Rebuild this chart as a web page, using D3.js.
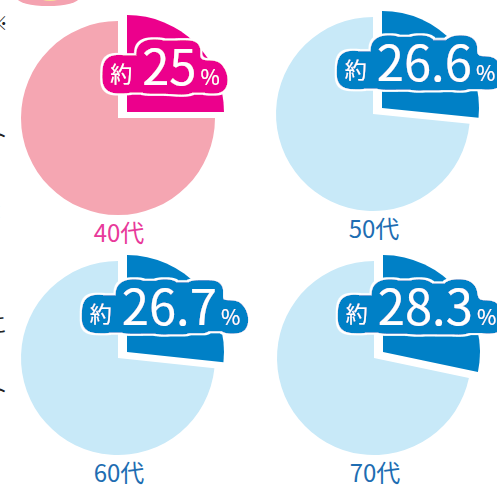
<!DOCTYPE html>
<html>
<head>
<meta charset="utf-8">
<script src="https://cdn.jsdelivr.net/npm/d3@7"></script>
<style>
  body { margin: 0; background: #fff; }
  svg { display: block; }
</style>
</head>
<body>
<div id="container"></div>
<script>
/* DATA */
const ages = ["40代", "50代", "60代", "70代"]
const shares = [25, 26.6, 26.7, 28.3]
const shareLabels = ["25", "26.6", "26.7", "28.3"]

/* CONSTANTS AND GLOBALS */
const width = 497,
  height = 490

// pie centres, in reading order
const centres = [[118, 118], [373, 114], [118, 358], [374, 358]]
const radius = 97
const explode = { dx: 9, dy: -6 }

const themes = [
  { id: "pink", main: "#ec008c", rest: "#f5a6b2", text: "#e8399a" },
  { id: "blue", main: "#0080c6", rest: "#c8e9f8", text: "#1e6db2" },
  { id: "blue", main: "#0080c6", rest: "#c8e9f8", text: "#1e6db2" },
  { id: "blue", main: "#0080c6", rest: "#c8e9f8", text: "#1e6db2" }
]

const font = "'Noto Sans CJK JP', 'Noto Sans', sans-serif"

const svg = d3.select("#container")
  .append("svg")
  .attr("width", width)
  .attr("height", height)

// bubbly halo behind the value labels: grow the glyphs, blur, cut at a threshold,
// then close any small holes so the blob is solid
const defs = svg.append("defs")
const haloColours = { pink: "#ec008c", blue: "#0080c6" }
Object.entries(haloColours).forEach(([id, colour]) => {
  const f = defs.append("filter")
    .attr("id", "halo-" + id)
    .attr("x", "-40%").attr("y", "-100%")
    .attr("width", "180%").attr("height", "300%")
  f.append("feMorphology")
    .attr("in", "SourceAlpha").attr("operator", "dilate").attr("radius", 4)
    .attr("result", "grown")
  f.append("feGaussianBlur")
    .attr("in", "grown").attr("stdDeviation", 5).attr("result", "soft")
  const cut = f.append("feComponentTransfer").attr("in", "soft").attr("result", "cutA")
  cut.append("feFuncA").attr("type", "linear").attr("slope", 20).attr("intercept", -2.4)
  f.append("feMorphology")
    .attr("in", "cutA").attr("operator", "dilate").attr("radius", 6).attr("result", "wideA")
  f.append("feMorphology")
    .attr("in", "wideA").attr("operator", "erode").attr("radius", 6).attr("result", "blobA")
  f.append("feMorphology")
    .attr("in", "blobA").attr("operator", "dilate").attr("radius", 1.5).attr("result", "rimA")
  // outer white rim
  f.append("feFlood").attr("flood-color", "#ffffff").attr("result", "white")
  f.append("feComposite").attr("in", "white").attr("in2", "rimA").attr("operator", "in").attr("result", "rim")
  // coloured blob
  f.append("feFlood").attr("flood-color", colour).attr("result", "col")
  f.append("feComposite").attr("in", "col").attr("in2", "blobA").attr("operator", "in").attr("result", "blob")
  const m = f.append("feMerge")
  m.append("feMergeNode").attr("in", "rim")
  m.append("feMergeNode").attr("in", "blob")
  m.append("feMergeNode").attr("in", "SourceGraphic")
})

// pink brush stroke peeking in at the top
svg.append("ellipse")
  .attr("cx", 48).attr("cy", -2)
  .attr("rx", 31).attr("ry", 8)
  .attr("fill", "#f4a2b0")
svg.append("ellipse")
  .attr("cx", 50).attr("cy", -2)
  .attr("rx", 10).attr("ry", 3)
  .attr("fill", "#f6e39a")

// clipped side text at the left edge
const sideMarks = [[31, "※"], [143, "ト"], [220, "："], [332, "こ"], [398, "ト"]]
svg.selectAll(".side")
  .data(sideMarks)
  .join("text")
  .attr("class", "side")
  .attr("x", -12)
  .attr("y", d => d[0])
  .attr("font-family", font)
  .attr("font-size", 20)
  .attr("fill", "#222")
  .text(d => d[1])

const pie = d3.pie().sort(null).value(d => d)
const arc = d3.arc().innerRadius(0).outerRadius(radius)

ages.forEach((age, i) => {
  const [cx, cy] = centres[i]
  const t = themes[i]
  const slices = pie([shares[i], 100 - shares[i]])

  const g = svg.append("g")
    .attr("transform", `translate(${cx},${cy})`)

  // the rest of the pie
  g.append("path")
    .attr("d", arc(slices[1]))
    .attr("fill", t.rest)

  // highlighted slice, pulled out
  g.append("path")
    .attr("transform", `translate(${explode.dx},${explode.dy})`)
    .attr("d", arc(slices[0]))
    .attr("fill", t.main)

  // value label
  const txt = g.append("text")
    .attr("x", 47)
    .attr("y", -33)
    .attr("text-anchor", "middle")
    .attr("font-family", font)
    .attr("fill", "#fff")
    .attr("filter", `url(#halo-${t.id})`)
  txt.append("tspan").attr("font-size", 22).attr("dy", -3).text("約")
  txt.append("tspan").attr("font-size", 49).attr("dx", 10).attr("dy", 3).text(shareLabels[i])
  txt.append("tspan").attr("font-size", 21).attr("dx", 4).text("%")

  // age label
  g.append("text")
    .attr("x", 1)
    .attr("y", radius + 27)
    .attr("text-anchor", "middle")
    .attr("font-family", font)
    .attr("font-size", 24)
    .attr("fill", t.text)
    .text(age)
})
</script>
</body>
</html>
